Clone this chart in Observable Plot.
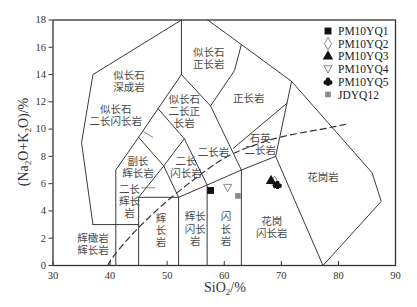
<!DOCTYPE html>
<html><head><meta charset="utf-8">
<script src="https://cdn.jsdelivr.net/npm/d3@7"></script>
<script src="https://cdn.jsdelivr.net/npm/@observablehq/plot@0.6"></script>
<style>body{margin:0;background:#fff;} #chart{width:417px;height:307px;}</style>
</head><body><div id="chart"></div>
<script>
// ---- data ----
const xTicks = [30, 40, 50, 60, 70, 80, 90];
const yTicks = [0, 2, 4, 6, 8, 10, 12, 14, 16, 18];

// field boundaries (SiO2, Na2O+K2O) — Middlemost (1994) plutonic TAS
const boundaries = [
  [[41,0],[41,7],[45,9.4],[48.4,11.5],[52.5,14],[57.6,11.7],[61.8,14.3],[63,16.2]],
  [[37,3],[35,9],[37,14],[52.5,18]],
  [[37,3],[45,3]],
  [[45,0],[45,5],[52,5],[57,5.9],[63,7],[69,8],[71.8,13.5]],
  [[45,9.4],[49.4,7.3],[53,9.3],[48.4,11.5]],
  [[45,5],[49.4,7.3],[52,5]],
  [[52,0],[52,5]],
  [[57,0],[57,5.9]],
  [[63,0],[63,7]],
  [[53,9.3],[57,5.9]],
  [[57.6,11.7],[63,7]],
  [[52.5,14],[52.5,18]],
  [[57.1,18],[63,16.2],[71.8,13.5],[85.9,6.8],[87.5,4.7],[77.3,0]],
  [[69,8],[77.3,0]],
  [[61.6,8.6],[71.0,11.9]]
];
const leaders = [
  [[45.9,9.8],[47.5,9.4]],
  [[45.5,5.7],[47.8,5.7]]
];
// alkaline / subalkaline divide (Irvine & Baragar, 1971)
const divideX = [39.6, 40, 43.2, 45, 48, 50, 53.7, 55, 60, 65, 70, 77.4, 81.7];
const divideY = [0, 0.4, 2, 2.8, 4, 4.75, 6, 6.4, 8, 8.8, 9.5, 10.0, 10.4];

const fieldNames = ["似长石\n深成岩","似长石\n二长闪长岩","似长石\n正长岩","似长石\n二长正\n长岩","正长岩","石英\n二长岩","二长岩","二长\n闪长岩","副长\n辉长岩","二长\n辉长\n岩","辉橄岩\n辉长岩","辉\n长\n岩","辉长\n闪长\n岩","闪\n长\n岩","花岗\n闪长岩","花岗岩"];
const fieldX = [43.3, 41.0, 57.3, 53.0, 64.3, 66.3, 58.1, 53.3, 44.9, 43.4, 37.0, 48.9, 54.9, 60.3, 68.3, 77.3];
const fieldY = [13.5, 11.0, 15.2, 11.3, 12.3, 8.9, 8.3, 7.2, 7.2, 4.7, 1.55, 2.6, 2.7, 2.7, 2.8, 6.5];

const samples = ["PM10YQ1","PM10YQ2","PM10YQ3","PM10YQ4","PM10YQ5","JDYQ12"];
const sio2 = [57.6, 68.8, 68.2, 60.6, 69.3, 62.4];
const alkali = [5.5, 6.1, 6.2, 5.7, 5.9, 5.1];

// ---- styles ----
const triDown = {draw(ctx, size){ const s = Math.sqrt(size*1.6); ctx.moveTo(-s/2, -s*0.42); ctx.lineTo(s/2, -s*0.42); ctx.lineTo(0, s*0.5); ctx.closePath(); }};
const club = {draw(ctx, size){ const r = Math.sqrt(size)/2.4;
  const c = (cx, cy, rr) => { ctx.moveTo(cx+rr, cy); ctx.arc(cx, cy, rr, 0, 2*Math.PI); };
  c(0, -r*0.7, r*0.72); c(-r*0.75, r*0.2, r*0.72); c(r*0.75, r*0.2, r*0.72);
  ctx.moveTo(-r*0.25, 0); ctx.lineTo(r*0.25, 0); ctx.lineTo(r*0.55, r*1.3); ctx.lineTo(-r*0.55, r*1.3); ctx.closePath(); }};
const sty = {
  PM10YQ1: {symbol: d3.symbolSquare, fill: "#111", stroke: "none", r: 3.9},
  PM10YQ2: {symbol: d3.symbolDiamond, fill: "white", stroke: "#888", r: 3.8},
  PM10YQ3: {symbol: d3.symbolTriangle, fill: "#111", stroke: "none", r: 3.9},
  PM10YQ4: {symbol: triDown, fill: "white", stroke: "#888", r: 3.6},
  PM10YQ5: {symbol: club, fill: "#111", stroke: "none", r: 4.2},
  JDYQ12: {symbol: d3.symbolSquare, fill: "#8a8a8a", stroke: "none", r: 3.2}
};

const lineData = boundaries.flatMap((b, i) => b.map(([x, y]) => ({i, x, y})));
const leaderData = leaders.flatMap((b, i) => b.map(([x, y]) => ({i, x, y})));
const divide = divideX.map((x, k) => ({x, y: divideY[k]}));
const labels = fieldNames.map((t, k) => ({t, x: fieldX[k], y: fieldY[k]}));
const pts = samples.map((s, k) => ({s, x: sio2[k], y: alkali[k]}));

const plot = Plot.plot({
  width: 417, height: 307,
  marginLeft: 52.5, marginRight: 22, marginTop: 19.5, marginBottom: 42,
  x: {domain: [30, 90]},
  y: {domain: [0, 18]},
  style: {fontFamily: "Liberation Serif", fontSize: "10.5px", color: "#333", background: "white"},
  marks: [
    Plot.line(lineData, {x: "x", y: "y", z: "i", stroke: "#3a3a3a", strokeWidth: 1}),
    Plot.line(leaderData, {x: "x", y: "y", z: "i", stroke: "#666", strokeWidth: 0.8}),
    Plot.line(divide, {x: "x", y: "y", stroke: "#333", strokeWidth: 1.2, strokeDasharray: "6,4", curve: "basis"}),
    Plot.text(labels, {x: "x", y: "y", text: "t", fontFamily: "Noto Sans CJK SC", fontSize: 10.5, lineHeight: 1.15, fill: "#4a4a4a"}),
    ...pts.map(p => Plot.dot([p], {x: "x", y: "y", symbol: () => sty[p.s].symbol, r: sty[p.s].r, fill: sty[p.s].fill, stroke: sty[p.s].stroke, strokeWidth: 1})),
    Plot.axisX({ticks: xTicks, tickSize: -4, tickPadding: 10, label: null, fill: "#333"}),
    Plot.axisY({ticks: yTicks, tickSize: 4, tickPadding: 3, label: null, fill: "#333"}),
    Plot.frame({stroke: "#333", strokeWidth: 1.3})
  ]
});
document.getElementById("chart").appendChild(plot);

// axis titles with subscripts
const svg = d3.select(plot);
const ylab = svg.append("text").attr("transform", "translate(28,142) rotate(-90)")
  .attr("text-anchor", "middle").attr("font-family", "Liberation Serif").attr("font-size", 14).attr("fill", "#333");
ylab.append("tspan").text("(Na");
ylab.append("tspan").attr("font-size", 9).attr("dy", 3).text("2");
ylab.append("tspan").attr("dy", -3).text("O+K");
ylab.append("tspan").attr("font-size", 9).attr("dy", 3).text("2");
ylab.append("tspan").attr("dy", -3).text("O)/%");
const xlab = svg.append("text").attr("x", 225).attr("y", 292)
  .attr("text-anchor", "middle").attr("font-family", "Liberation Serif").attr("font-size", 14).attr("fill", "#333");
xlab.append("tspan").text("SiO");
xlab.append("tspan").attr("font-size", 9).attr("dy", 3).text("2");
xlab.append("tspan").attr("dy", -3).text("/%");

// legend
const lg = svg.append("g").attr("transform", "translate(328,31)");
samples.forEach((s, k) => {
  const st = sty[s];
  const row = lg.append("g").attr("transform", `translate(0,${k * 12.7})`);
  row.append("path").attr("d", d3.symbol(st.symbol, Math.PI * st.r * st.r)())
    .attr("fill", st.fill).attr("stroke", st.stroke);
  row.append("text").attr("x", 10).attr("y", 4).attr("text-anchor", "start").attr("font-family", "Liberation Serif")
    .attr("font-size", 11.5).attr("fill", "#222").text(s);
});
</script></body></html>
